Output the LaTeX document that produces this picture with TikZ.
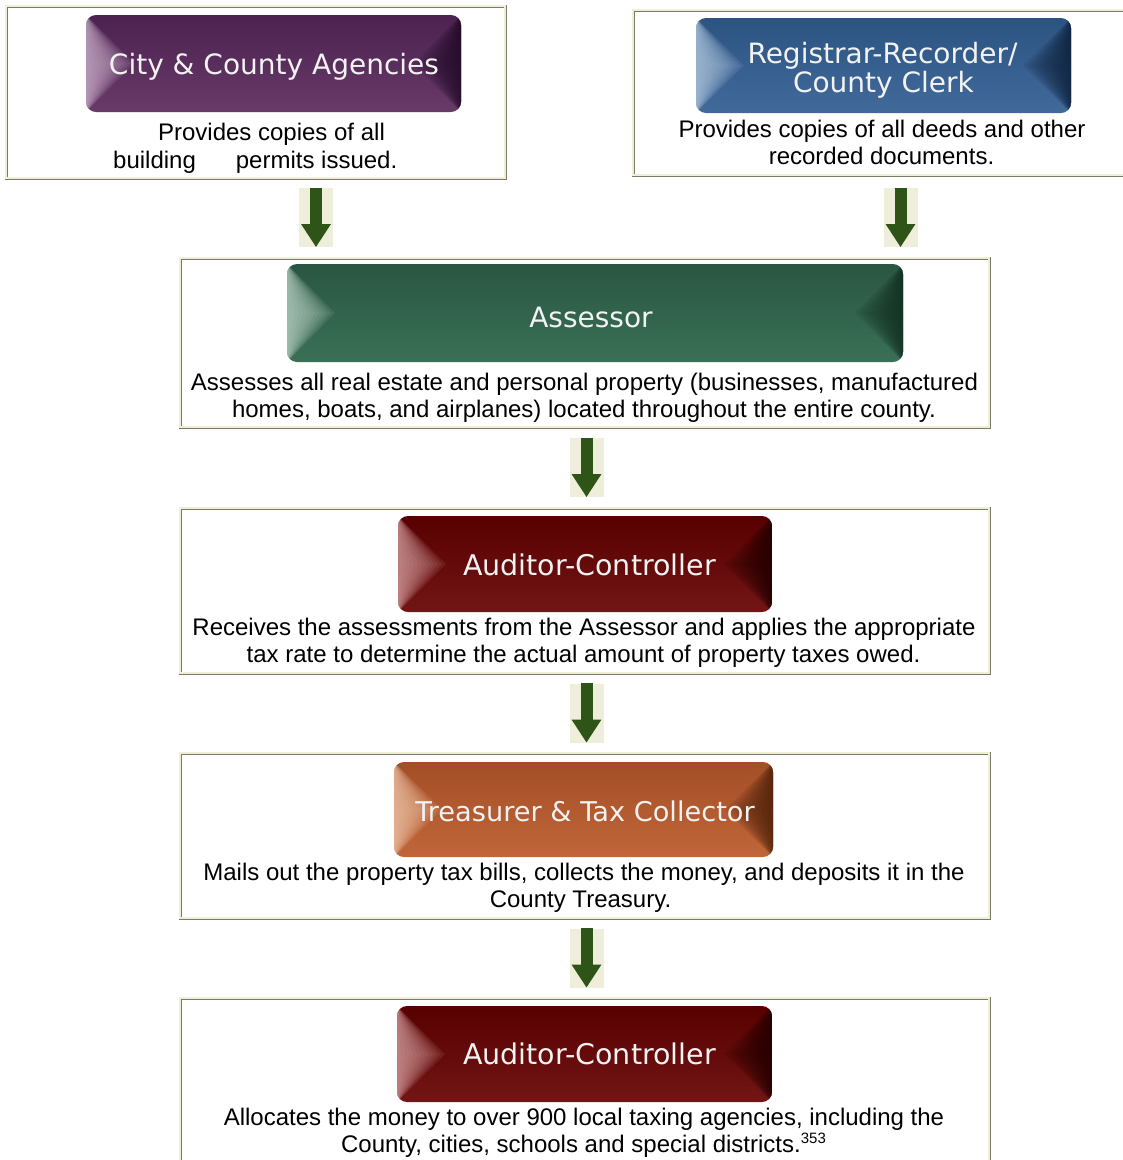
\documentclass[tikz,border=0pt]{standalone}
\usepackage{fontspec}
\setmainfont{Liberation Sans}
\newfontfamily\btnfont{DejaVu Sans}
\usetikzlibrary{arrows.meta,fit}

\definecolor{rcream}{HTML}{EFEFD8}
\definecolor{rgray}{HTML}{7A7A66}
\definecolor{abg}{HTML}{EEEEDA}
\definecolor{agreen}{HTML}{2E5418}
\definecolor{btxt}{HTML}{F2F2F2}
% purple
\definecolor{purtop}{HTML}{4C2250}
\definecolor{purbase}{HTML}{683A68}
\definecolor{purlight}{HTML}{D2B8D2}
\definecolor{purdark}{HTML}{1A0820}
% blue
\definecolor{blutop}{HTML}{2C5482}
\definecolor{blubase}{HTML}{41699A}
\definecolor{blulight}{HTML}{BACFE4}
\definecolor{bludark}{HTML}{0A1A30}
% green
\definecolor{grntop}{HTML}{2A5642}
\definecolor{grnbase}{HTML}{3A7056}
\definecolor{grnlight}{HTML}{C2D8CC}
\definecolor{grndark}{HTML}{0E281A}
% dark red
\definecolor{redtop}{HTML}{580000}
\definecolor{redbase}{HTML}{721515}
\definecolor{redlight}{HTML}{DAA8A8}
\definecolor{reddark}{HTML}{180000}
% orange
\definecolor{orntop}{HTML}{A44E26}
\definecolor{ornbase}{HTML}{C0663A}
\definecolor{ornlight}{HTML}{F4CCB0}
\definecolor{orndark}{HTML}{401A06}

\tikzset{
  x=1pt, y=-1pt,
  btntext/.style={font=\btnfont\fontsize{28}{30}\selectfont, text=btxt, inner sep=0pt, anchor=base},
  bodytext/.style={font=\fontsize{24}{27}\selectfont, text=black, inner sep=0pt, anchor=base},
  arrowbg/.style={fill=abg, draw=none, minimum width=34pt, minimum height=59pt, inner sep=0pt},
  arrowline/.style={draw=agreen, line width=12pt, -{Triangle[width=28pt,length=23pt]}},
  boxnode/.style={inner sep=0pt, draw=none}
}

% ridge-bordered box: name x1 y1 x2 y2
\newcommand\ridgebox[5]{%
  \coordinate (#1-nw) at (#2,#3);
  \coordinate (#1-se) at (#4,#5);
  \node[boxnode, fit=(#1-nw)(#1-se)] (#1) {};
  \draw[rcream, line width=1.5pt] (#2+0.75,#5) |- (#4,#3+0.75);
  \draw[rgray, line width=1.5pt] (#2+2.25,#5-1.5) |- (#4-1.5,#3+2.25);
  \draw[rcream, line width=1.5pt] (#2+1.5,#5-2.25) -| (#4-2.25,#3+1.5);
  \draw[rgray, line width=1.5pt] (#2,#5-0.75) -| (#4-0.75,#3);
}

% bevelled button: name x1 y1 x2 y2 colourprefix text-x text-baseline text
\newcommand\bevelbtn[9]{%
  \begin{scope}
    \clip[rounded corners=10pt] (#2,#3) rectangle (#4,#5);
    \shade[top color=#6top, bottom color=#6base] (#2,#3) rectangle (#4,#5);
    \foreach \w in {4,8,...,48}{
      \fill[#6light, opacity=0.11] (#2,#3) -- (#2+\w,#3/2+#5/2) -- (#2,#5) -- cycle;
      \fill[#6dark, opacity=0.10] (#4,#3) -- (#4-\w,#3/2+#5/2) -- (#4,#5) -- cycle;
    }
  \end{scope}
  \node[btntext] (#1) at (#7,#8) {#9};
}

\begin{document}
\begin{tikzpicture}
\useasboundingbox (0,0) rectangle (1123,1160);
\fill[white] (0,0) rectangle (1123,1160);

% ---- boxes ----
\ridgebox{box1}{5}{5}{507}{180}
\ridgebox{box2}{632}{9}{1128}{177}
\ridgebox{box3}{179}{257}{991}{429}
\ridgebox{box4}{179}{507}{991}{675}
\ridgebox{box5}{179}{752}{991}{920}
\ridgebox{box6}{179}{997}{991}{1175}

% ---- buttons ----
\bevelbtn{b1}{86}{15}{461}{112}{pur}{274}{74}{City \& County Agencies}
\bevelbtn{b2}{696}{18}{1071}{113}{blu}{882.5}{63}{Registrar-Recorder/}
\node[btntext] (b2b) at (883.5,92) {County Clerk};
\bevelbtn{b3}{287}{264}{903}{362}{grn}{591}{327.5}{Assessor}
\bevelbtn{b4}{398}{516}{772}{612}{red}{589.5}{575.5}{\fontsize{28.5}{30}\selectfont Auditor-Controller}
\bevelbtn{b5}{394}{762}{773}{857}{orn}{585}{821.5}{\fontsize{27.2}{30}\selectfont Treasurer \& Tax Collector}
\bevelbtn{b6}{397}{1006}{772}{1102}{red}{589.5}{1064.5}{\fontsize{28.5}{30}\selectfont Auditor-Controller}

% ---- descriptions ----
\node[bodytext] (t1a) at (271.5,140) {Provides copies of all};
\node[bodytext, anchor=base west] (t1b) at (113,168) {building\hspace{40pt}permits issued.};
\node[bodytext] (t2a) at (882,137) {Provides copies of all deeds and other};
\node[bodytext] (t2b) at (881.5,164) {recorded documents.};
\node[bodytext] (t3a) at (584.5,390) {Assesses all real estate and personal property (businesses, manufactured};
\node[bodytext] (t3b) at (584,417) {homes, boats, and airplanes) located throughout the entire county.};
\node[bodytext] (t4a) at (584,635) {Receives the assessments from the Assessor and applies the appropriate};
\node[bodytext] (t4b) at (583.5,662) {tax rate to determine the actual amount of property taxes owed.};
\node[bodytext] (t5a) at (584,880) {Mails out the property tax bills, collects the money, and deposits it in the};
\node[bodytext] (t5b) at (580.5,907) {County Treasury.};
\node[bodytext] (t6a) at (584,1125) {Allocates the money to over 900 local taxing agencies, including the};
\node[bodytext] (t6b) at (583.5,1152) {County, cities, schools and special districts.\raisebox{9pt}{\fontsize{15}{15}\selectfont 353}};

% ---- arrows ----
\node[arrowbg] (a1) at (316,217.5) {};
\node[arrowbg] (a2) at (900.5,217.5) {};
\node[arrowbg] (a3) at (586.5,467.5) {};
\node[arrowbg] (a4) at (586.5,713) {};
\node[arrowbg] (a5) at (586.5,958) {};
\foreach \a in {a1,a2,a3,a4,a5}{
  \draw[arrowline] (\a.north) -- (\a.south);
}
\end{tikzpicture}
\end{document}
